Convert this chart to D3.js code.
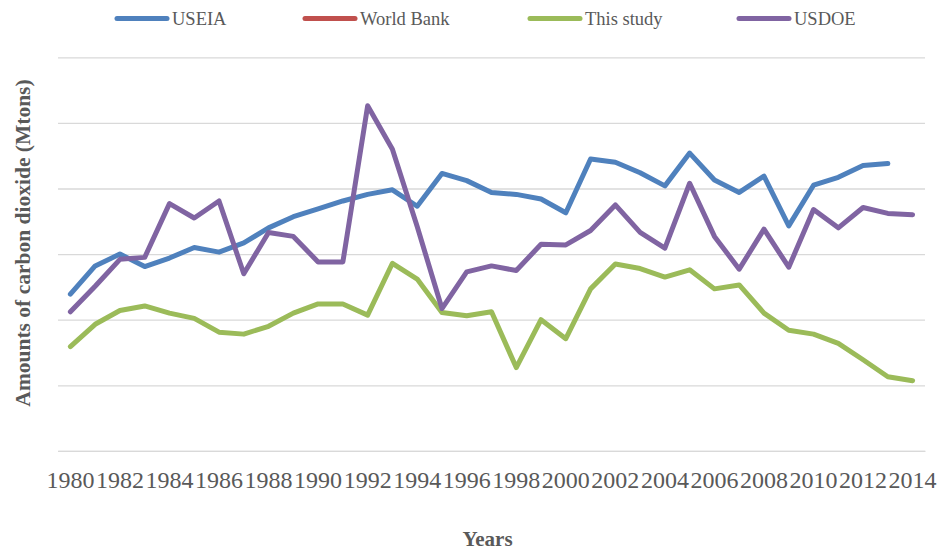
<!DOCTYPE html>
<html>
<head>
<meta charset="utf-8">
<script src="https://cdn.jsdelivr.net/npm/d3@7"></script>
<style>
  html, body { margin: 0; padding: 0; background: #fff; }
</style>
</head>
<body>
<svg id="chart" width="938" height="550"></svg>
<script>
// ---- data (gridlines every 100 units) ----
const years = d3.range(1980, 2015);
const tickYears = years.filter(y => (y - 1980) % 2 === 0);
const seriesNames = ["USEIA", "World Bank", "This study", "USDOE"];
const seriesColors = ["#4F81BD", "#C0504D", "#9BBB59", "#8064A2"];

const useia = [239, 282, 300, 281, 294, 310, 303, 317, 340, 357, 369, 381, 391, 398, 373, 423, 412, 394, 391, 384, 363, 445, 440, 424, 404, 454, 413, 394, 419, 343, 405, 417, 435, 438, null];
const worldBank = [];
const thisStudy = [159, 193, 214, 221, 210, 202, 181, 178, 190, 210, 224, 224, 207, 286, 262, 211, 206, 212, 127, 200, 171, 247, 285, 278, 265, 276, 247, 253, 210, 184, 178, 164, 139, 113, 107];
const usdoe = [212, 251, 292, 295, 377, 355, 381, 270, 333, 327, 288, 288, 526, 460, 342, 217, 273, 282, 275, 315, 314, 336, 375, 333, 309, 408, 327, 277, 338, 280, 368, 340, 371, 362, 360];
const yTicks = [0, 100, 200, 300, 400, 500, 600];

const seriesValues = [useia, worldBank, thisStudy, usdoe];

// ---- layout ----
const FONT = "'Liberation Serif', 'Times New Roman', serif";
const svg = d3.select("#chart");
const mLeft = 58, mRight = 925, mTop = 57.3, mBottom = 450.9;
const textColor = "#595959";

const x = d3.scaleBand().domain(years).range([mLeft, mRight]).paddingInner(0).paddingOuter(0);
const y = d3.scaleLinear().domain([0, 600]).range([mBottom, mTop]);
const cx = d => x(d) + x.bandwidth() / 2;

// gridlines
const yAxis = d3.axisLeft(y).tickValues(yTicks).tickSize(-(mRight - mLeft)).tickFormat("");
const gy = svg.append("g").attr("transform", `translate(${mLeft},0)`).call(yAxis);
gy.select(".domain").remove();
gy.selectAll(".tick line").attr("stroke", "#d9d9d9").attr("stroke-width", 1.3);

// x axis
const xAxis = d3.axisBottom(x).tickValues(tickYears).tickSize(0).tickPadding(20);
const gx = svg.append("g").attr("transform", `translate(0,${mBottom})`).call(xAxis);
gx.select(".domain").attr("stroke", "#d9d9d9").attr("stroke-width", 1.3);
gx.selectAll(".tick text")
  .style("font-family", FONT)
  .style("font-size", "24px").attr("fill", textColor);

// lines
const line = d3.line()
  .defined(d => d.v != null)
  .x(d => cx(d.year))
  .y(d => y(d.v));

seriesValues.forEach((vals, i) => {
  const pts = vals.map((v, j) => ({ year: years[j], v: v }));
  if (pts.length === 0) return;
  svg.append("path")
    .datum(pts)
    .attr("d", line)
    .attr("fill", "none")
    .attr("stroke", seriesColors[i])
    .attr("stroke-width", 5)
    .attr("stroke-linejoin", "round")
    .attr("stroke-linecap", "round");
});

// legend
const legendX = [115, 303, 528, 737];
const lg = svg.append("g");
seriesNames.forEach((name, i) => {
  lg.append("line")
    .attr("x1", legendX[i] + 2).attr("x2", legendX[i] + 52)
    .attr("y1", 18.5).attr("y2", 18.5)
    .attr("stroke", seriesColors[i]).attr("stroke-width", 5)
    .attr("stroke-linecap", "round");
  lg.append("text")
    .attr("x", legendX[i] + 57).attr("y", 25)
    .style("font-family", FONT)
    .style("font-size", "18.5px").attr("fill", textColor)
    .text(name);
});

// axis titles
svg.append("text")
  .attr("transform", "translate(29.5,243) rotate(-90)")
  .attr("text-anchor", "middle")
  .style("font-family", FONT)
  .style("font-size", "21.5px").style("font-weight", "bold").attr("fill", textColor)
  .text("Amounts of carbon dioxide (Mtons)");

svg.append("text")
  .attr("x", 487.5).attr("y", 546)
  .attr("text-anchor", "middle")
  .style("font-family", FONT)
  .style("font-size", "21px").style("font-weight", "bold").attr("fill", textColor)
  .text("Years");
</script>
</body>
</html>
